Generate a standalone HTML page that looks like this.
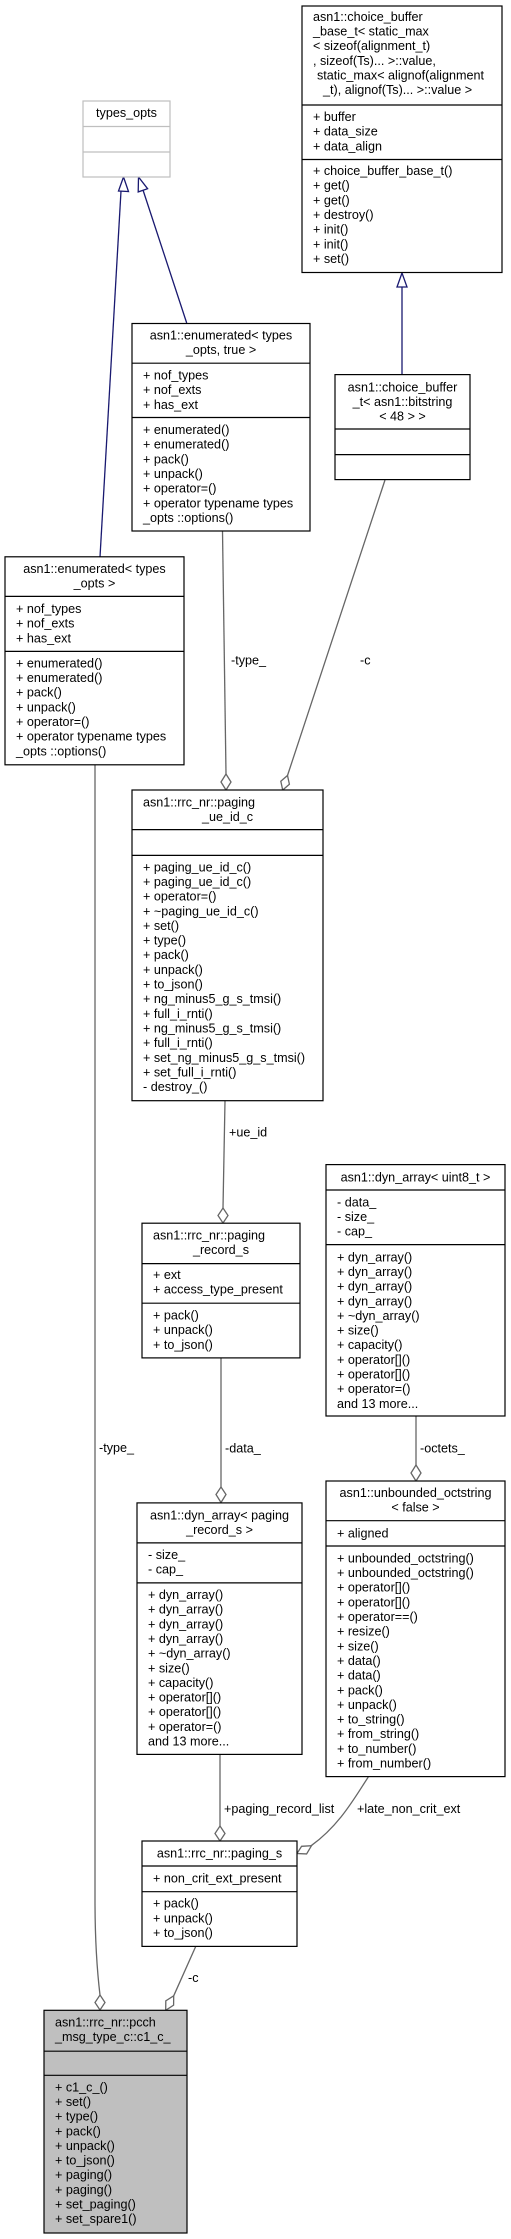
<!DOCTYPE html>
<html><head><meta charset="utf-8"><style>
html,body{margin:0;padding:0;background:#fff;}
svg{display:block;}
text{font-family:"Liberation Sans",Arial,sans-serif;font-size:12.6px;fill:#000;}
.b{fill:#fff;stroke:#000;stroke-width:1.2;}
.g{fill:#bfbfbf;stroke:#000;stroke-width:1.2;}
.l{stroke:#000;stroke-width:1.2;}
.e{fill:none;stroke:#666;stroke-width:1.3;}
.d{fill:#fff;stroke:#666;stroke-width:1.3;}
.i{fill:none;stroke:#191970;stroke-width:1.3;}
.a{fill:#fff;stroke:#191970;stroke-width:1.3;}
</style></head><body>
<svg width="511" height="2239" viewBox="0 0 511 2239" xmlns="http://www.w3.org/2000/svg">
<!-- edges: inheritance -->
<path class="i" d="M100,557 L121,191"/>
<polygon class="a" points="123.5,177 118.5,191 128.5,191.5"/>
<path class="i" d="M186.7,323 L143,190"/>
<polygon class="a" points="138.5,177 138.2,191.9 147.6,188.7"/>
<path class="i" d="M402,375 L402,287"/>
<polygon class="a" points="402,273 397,287 407,287"/>
<!-- aggregation -->
<path class="e" d="M222.5,531 L226,774"/>
<polygon class="d" points="226,774 231,782 226,790 221,782"/>
<text x="231" y="664.5">-type_</text>
<path class="e" d="M385,480 L287.5,775.5"/>
<polygon class="d" points="287.5,775.5 289.4,784.2 282.7,790 280.8,781.3"/>
<text x="360" y="664.5">-c</text>
<path class="e" d="M95,765 L95,1900 C95,1940 97,1970 100,1995"/>
<polygon class="d" points="100,1995 105,2002.5 100,2010 95,2002.5"/>
<text x="99" y="1452">-type_</text>
<path class="e" d="M225,1101 L223,1208"/>
<polygon class="d" points="223,1208 228,1215.5 223,1223 218,1215.5"/>
<text x="229" y="1136.3">+ue_id</text>
<path class="e" d="M221,1358 L221,1487"/>
<polygon class="d" points="221,1487 226,1494.5 221,1502.5 216,1494.5"/>
<text x="225" y="1452.4">-data_</text>
<path class="e" d="M416,1416 L416,1465"/>
<polygon class="d" points="416,1465 421,1473 416,1481 411,1473"/>
<text x="420" y="1452.4">-octets_</text>
<path class="e" d="M220,1754.5 L220,1826"/>
<polygon class="d" points="220,1826 225,1833.5 220,1841 215,1833.5"/>
<text x="224" y="1812.8">+paging_record_list</text>
<path class="e" d="M368.3,1777 C355,1797 340,1825 311,1845.8"/>
<polygon class="d" points="311.5,1845.7 306.6,1853.9 297,1853.5 301.6,1846.3"/>
<text x="357" y="1812.8">+late_non_crit_ext</text>
<path class="e" d="M195.7,1946.5 L173.7,1995.8"/>
<polygon class="d" points="173.7,1995.8 173.6,2005.2 165.7,2010.3 165.8,2000.8"/>
<text x="188" y="1982">-c</text>

<!-- types_opts -->
<rect x="83" y="101" width="87" height="76" fill="#fff" stroke="#bfbfbf" stroke-width="1.2"/>
<line x1="83" y1="126.5" x2="170" y2="126.5" stroke="#bfbfbf" stroke-width="1.2"/>
<line x1="83" y1="152" x2="170" y2="152" stroke="#bfbfbf" stroke-width="1.2"/>
<text x="126.5" y="117" text-anchor="middle">types_opts</text>

<!-- choice_buffer_base_t -->
<rect class="b" x="302" y="6" width="200" height="266.5"/>
<line class="l" x1="302" y1="105" x2="502" y2="105"/>
<line class="l" x1="302" y1="159.5" x2="502" y2="159.5"/>
<text y="21"><tspan x="313">asn1::choice_buffer</tspan><tspan x="313" dy="14.6">_base_t&lt; static_max</tspan><tspan x="313" dy="14.6">&lt; sizeof(alignment_t)</tspan><tspan x="313" dy="14.6">, sizeof(Ts)... &gt;::value,</tspan><tspan x="317" dy="14.6">static_max&lt; alignof(alignment</tspan><tspan x="323" dy="14.6">_t), alignof(Ts)... &gt;::value &gt;</tspan></text>
<text y="121"><tspan x="313">+ buffer</tspan><tspan x="313" dy="14.65">+ data_size</tspan><tspan x="313" dy="14.65">+ data_align</tspan></text>
<text y="175"><tspan x="313">+ choice_buffer_base_t()</tspan><tspan x="313" dy="14.65">+ get()</tspan><tspan x="313" dy="14.65">+ get()</tspan><tspan x="313" dy="14.65">+ destroy()</tspan><tspan x="313" dy="14.65">+ init()</tspan><tspan x="313" dy="14.65">+ init()</tspan><tspan x="313" dy="14.65">+ set()</tspan></text>

<!-- enumerated true -->
<rect class="b" x="132" y="323.5" width="178" height="207.5"/>
<line class="l" x1="132" y1="363.2" x2="310" y2="363.2"/>
<line class="l" x1="132" y1="417.5" x2="310" y2="417.5"/>
<text y="339.5" text-anchor="middle"><tspan x="221">asn1::enumerated&lt; types</tspan><tspan x="221" dy="14.6">_opts, true &gt;</tspan></text>
<text y="379.5"><tspan x="143">+ nof_types</tspan><tspan x="143" dy="14.65">+ nof_exts</tspan><tspan x="143" dy="14.65">+ has_ext</tspan></text>
<text y="434"><tspan x="143">+ enumerated()</tspan><tspan x="143" dy="14.65">+ enumerated()</tspan><tspan x="143" dy="14.65">+ pack()</tspan><tspan x="143" dy="14.65">+ unpack()</tspan><tspan x="143" dy="14.65">+ operator=()</tspan><tspan x="143" dy="14.65">+ operator typename types</tspan><tspan x="143" dy="14.65">_opts ::options()</tspan></text>

<!-- choice_buffer_t -->
<rect class="b" x="335" y="374.6" width="135" height="105"/>
<line class="l" x1="335" y1="429" x2="470" y2="429"/>
<line class="l" x1="335" y1="454.6" x2="470" y2="454.6"/>
<text y="391.3" text-anchor="middle"><tspan x="402.5">asn1::choice_buffer</tspan><tspan x="402.5" dy="14.6">_t&lt; asn1::bitstring</tspan><tspan x="402.5" dy="14.6">&lt; 48 &gt; &gt;</tspan></text>

<!-- enumerated types_opts -->
<rect class="b" x="5" y="556.8" width="179" height="208"/>
<line class="l" x1="5" y1="596.4" x2="184" y2="596.4"/>
<line class="l" x1="5" y1="651.4" x2="184" y2="651.4"/>
<text y="573" text-anchor="middle"><tspan x="94.5">asn1::enumerated&lt; types</tspan><tspan x="94.5" dy="14.6">_opts &gt;</tspan></text>
<text y="613"><tspan x="16">+ nof_types</tspan><tspan x="16" dy="14.65">+ nof_exts</tspan><tspan x="16" dy="14.65">+ has_ext</tspan></text>
<text y="667.4"><tspan x="16">+ enumerated()</tspan><tspan x="16" dy="14.65">+ enumerated()</tspan><tspan x="16" dy="14.65">+ pack()</tspan><tspan x="16" dy="14.65">+ unpack()</tspan><tspan x="16" dy="14.65">+ operator=()</tspan><tspan x="16" dy="14.65">+ operator typename types</tspan><tspan x="16" dy="14.65">_opts ::options()</tspan></text>

<!-- paging_ue_id_c -->
<rect class="b" x="132" y="790" width="191" height="310.7"/>
<line class="l" x1="132" y1="829.6" x2="323" y2="829.6"/>
<line class="l" x1="132" y1="855.4" x2="323" y2="855.4"/>
<text y="806.3"><tspan x="143">asn1::rrc_nr::paging</tspan><tspan x="227.5" dy="14.6" text-anchor="middle">_ue_id_c</tspan></text>
<text y="871.3"><tspan x="143">+ paging_ue_id_c()</tspan><tspan x="143" dy="14.65">+ paging_ue_id_c()</tspan><tspan x="143" dy="14.65">+ operator=()</tspan><tspan x="143" dy="14.65">+ ~paging_ue_id_c()</tspan><tspan x="143" dy="14.65">+ set()</tspan><tspan x="143" dy="14.65">+ type()</tspan><tspan x="143" dy="14.65">+ pack()</tspan><tspan x="143" dy="14.65">+ unpack()</tspan><tspan x="143" dy="14.65">+ to_json()</tspan><tspan x="143" dy="14.65">+ ng_minus5_g_s_tmsi()</tspan><tspan x="143" dy="14.65">+ full_i_rnti()</tspan><tspan x="143" dy="14.65">+ ng_minus5_g_s_tmsi()</tspan><tspan x="143" dy="14.65">+ full_i_rnti()</tspan><tspan x="143" dy="14.65">+ set_ng_minus5_g_s_tmsi()</tspan><tspan x="143" dy="14.65">+ set_full_i_rnti()</tspan><tspan x="143" dy="14.65">- destroy_()</tspan></text>

<!-- paging_record_s -->
<rect class="b" x="142" y="1223.2" width="158" height="134.7"/>
<line class="l" x1="142" y1="1263.6" x2="300" y2="1263.6"/>
<line class="l" x1="142" y1="1303.2" x2="300" y2="1303.2"/>
<text y="1239.5"><tspan x="153">asn1::rrc_nr::paging</tspan><tspan x="221" dy="14.6" text-anchor="middle">_record_s</tspan></text>
<text y="1279"><tspan x="153">+ ext</tspan><tspan x="153" dy="14.65">+ access_type_present</tspan></text>
<text y="1319.5"><tspan x="153">+ pack()</tspan><tspan x="153" dy="14.65">+ unpack()</tspan><tspan x="153" dy="14.65">+ to_json()</tspan></text>

<!-- dyn_array uint8 -->
<rect class="b" x="326" y="1164.6" width="179" height="251.4"/>
<line class="l" x1="326" y1="1190" x2="505" y2="1190"/>
<line class="l" x1="326" y1="1244.6" x2="505" y2="1244.6"/>
<text x="415.5" y="1181.3" text-anchor="middle">asn1::dyn_array&lt; uint8_t &gt;</text>
<text y="1206.3"><tspan x="337">- data_</tspan><tspan x="337" dy="14.65">- size_</tspan><tspan x="337" dy="14.65">- cap_</tspan></text>
<text y="1261.3"><tspan x="337">+ dyn_array()</tspan><tspan x="337" dy="14.65">+ dyn_array()</tspan><tspan x="337" dy="14.65">+ dyn_array()</tspan><tspan x="337" dy="14.65">+ dyn_array()</tspan><tspan x="337" dy="14.65">+ ~dyn_array()</tspan><tspan x="337" dy="14.65">+ size()</tspan><tspan x="337" dy="14.65">+ capacity()</tspan><tspan x="337" dy="14.65">+ operator[]()</tspan><tspan x="337" dy="14.65">+ operator[]()</tspan><tspan x="337" dy="14.65">+ operator=()</tspan><tspan x="337" dy="14.65">and 13 more...</tspan></text>

<!-- unbounded_octstring -->
<rect class="b" x="326" y="1481" width="179" height="295.6"/>
<line class="l" x1="326" y1="1520.7" x2="505" y2="1520.7"/>
<line class="l" x1="326" y1="1546" x2="505" y2="1546"/>
<text y="1497" text-anchor="middle"><tspan x="415.5">asn1::unbounded_octstring</tspan><tspan x="415.5" dy="14.6">&lt; false &gt;</tspan></text>
<text x="337" y="1537.4">+ aligned</text>
<text y="1562.4"><tspan x="337">+ unbounded_octstring()</tspan><tspan x="337" dy="14.65">+ unbounded_octstring()</tspan><tspan x="337" dy="14.65">+ operator[]()</tspan><tspan x="337" dy="14.65">+ operator[]()</tspan><tspan x="337" dy="14.65">+ operator==()</tspan><tspan x="337" dy="14.65">+ resize()</tspan><tspan x="337" dy="14.65">+ size()</tspan><tspan x="337" dy="14.65">+ data()</tspan><tspan x="337" dy="14.65">+ data()</tspan><tspan x="337" dy="14.65">+ pack()</tspan><tspan x="337" dy="14.65">+ unpack()</tspan><tspan x="337" dy="14.65">+ to_string()</tspan><tspan x="337" dy="14.65">+ from_string()</tspan><tspan x="337" dy="14.65">+ to_number()</tspan><tspan x="337" dy="14.65">+ from_number()</tspan></text>

<!-- dyn_array paging_record_s -->
<rect class="b" x="137" y="1502.9" width="165" height="251.5"/>
<line class="l" x1="137" y1="1542.9" x2="302" y2="1542.9"/>
<line class="l" x1="137" y1="1582.9" x2="302" y2="1582.9"/>
<text y="1519.5" text-anchor="middle"><tspan x="219.5">asn1::dyn_array&lt; paging</tspan><tspan x="219.5" dy="14.6">_record_s &gt;</tspan></text>
<text y="1559"><tspan x="148">- size_</tspan><tspan x="148" dy="14.65">- cap_</tspan></text>
<text y="1599"><tspan x="148">+ dyn_array()</tspan><tspan x="148" dy="14.65">+ dyn_array()</tspan><tspan x="148" dy="14.65">+ dyn_array()</tspan><tspan x="148" dy="14.65">+ dyn_array()</tspan><tspan x="148" dy="14.65">+ ~dyn_array()</tspan><tspan x="148" dy="14.65">+ size()</tspan><tspan x="148" dy="14.65">+ capacity()</tspan><tspan x="148" dy="14.65">+ operator[]()</tspan><tspan x="148" dy="14.65">+ operator[]()</tspan><tspan x="148" dy="14.65">+ operator=()</tspan><tspan x="148" dy="14.65">and 13 more...</tspan></text>

<!-- paging_s -->
<rect class="b" x="142" y="1841" width="155" height="105.4"/>
<line class="l" x1="142" y1="1866" x2="297" y2="1866"/>
<line class="l" x1="142" y1="1891.7" x2="297" y2="1891.7"/>
<text x="219.5" y="1857.5" text-anchor="middle">asn1::rrc_nr::paging_s</text>
<text x="153" y="1882.5">+ non_crit_ext_present</text>
<text y="1907.7"><tspan x="153">+ pack()</tspan><tspan x="153" dy="14.65">+ unpack()</tspan><tspan x="153" dy="14.65">+ to_json()</tspan></text>

<!-- c1_c_ -->
<rect class="g" x="44" y="2010.3" width="143" height="222.7"/>
<line class="l" x1="44" y1="2051.2" x2="187" y2="2051.2"/>
<line class="l" x1="44" y1="2075.3" x2="187" y2="2075.3"/>
<text y="2026.3"><tspan x="55">asn1::rrc_nr::pcch</tspan><tspan x="55" dy="14.6">_msg_type_c::c1_c_</tspan></text>
<text y="2091.3"><tspan x="55">+ c1_c_()</tspan><tspan x="55" dy="14.65">+ set()</tspan><tspan x="55" dy="14.65">+ type()</tspan><tspan x="55" dy="14.65">+ pack()</tspan><tspan x="55" dy="14.65">+ unpack()</tspan><tspan x="55" dy="14.65">+ to_json()</tspan><tspan x="55" dy="14.65">+ paging()</tspan><tspan x="55" dy="14.65">+ paging()</tspan><tspan x="55" dy="14.65">+ set_paging()</tspan><tspan x="55" dy="14.65">+ set_spare1()</tspan></text>
</svg>
</body></html>
